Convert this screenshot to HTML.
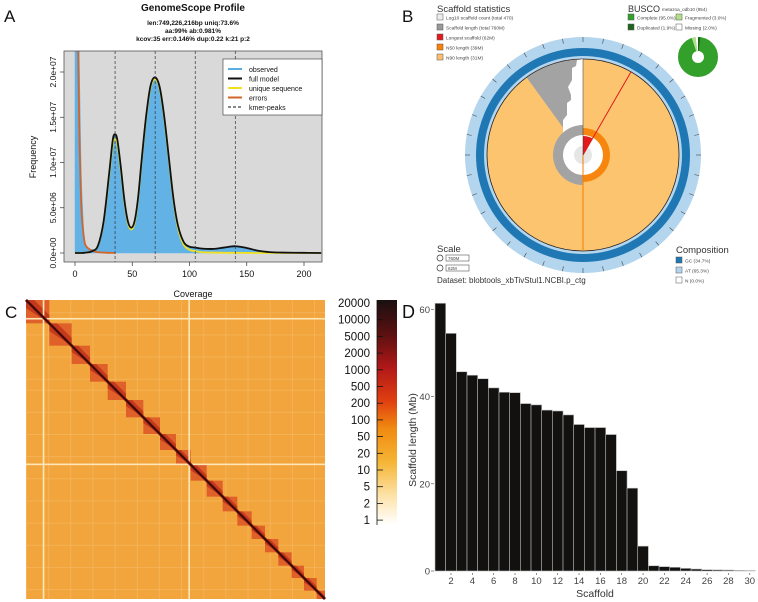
<!DOCTYPE html>
<html><head><meta charset="utf-8"><style>
html,body{margin:0;padding:0;background:#fff;}
svg{display:block;font-family:"Liberation Sans",sans-serif;}
</style></head><body>
<svg id="fig" width="758" height="602" viewBox="0 0 758 602" xmlns="http://www.w3.org/2000/svg">
<defs>
<clipPath id="clipA"><rect x="64" y="51" width="258" height="211"/></clipPath>
<linearGradient id="cbar" x1="0" y1="0" x2="0" y2="1">
<stop offset="0" stop-color="#1a1010"/><stop offset="0.15" stop-color="#5a1010"/><stop offset="0.3" stop-color="#b01818"/><stop offset="0.45" stop-color="#e04010"/><stop offset="0.57" stop-color="#f08a10"/><stop offset="0.72" stop-color="#f5b535"/><stop offset="0.87" stop-color="#fde2a8"/><stop offset="1" stop-color="#ffffff"/>
</linearGradient>
</defs>
<!-- Panel A -->
<g>
<text x="4" y="22" font-size="17" fill="#111">A</text>
<text x="193" y="11" font-size="10" font-weight="bold" text-anchor="middle" fill="#111">GenomeScope Profile</text>
<text x="193" y="25" font-size="6.5" font-weight="bold" text-anchor="middle" fill="#111">len:749,226,216bp uniq:73.6%</text>
<text x="193" y="33" font-size="6.5" font-weight="bold" text-anchor="middle" fill="#111">aa:99% ab:0.981%</text>
<text x="193" y="41" font-size="6.5" font-weight="bold" text-anchor="middle" fill="#111">kcov:35 err:0.146%  dup:0.22  k:21 p:2</text>
<rect x="64" y="51" width="258" height="211" fill="#d9d9d9"/>
<g id="aMarks" clip-path="url(#clipA)"></g>
<rect x="64" y="51" width="258" height="211" fill="none" stroke="#555" stroke-width="0.8"/>
<g id="aAxes"></g>
<text transform="translate(36,157) rotate(-90)" font-size="9" text-anchor="middle" fill="#111">Frequency</text>
<text x="193" y="297" font-size="9" text-anchor="middle" fill="#111">Coverage</text>
<g>
<rect x="223" y="59" width="99" height="56" fill="#fff" stroke="#333" stroke-width="0.6"/>
<line x1="228" y1="69" x2="242" y2="69" stroke="#5aaee3" stroke-width="2"/><text x="249" y="72" font-size="7" fill="#111">observed</text>
<line x1="228" y1="78.5" x2="242" y2="78.5" stroke="#111" stroke-width="2"/><text x="249" y="81.5" font-size="7" fill="#111">full model</text>
<line x1="228" y1="88" x2="242" y2="88" stroke="#f0e020" stroke-width="2"/><text x="249" y="91" font-size="7" fill="#111">unique sequence</text>
<line x1="228" y1="97.5" x2="242" y2="97.5" stroke="#d4652a" stroke-width="2"/><text x="249" y="100.5" font-size="7" fill="#111">errors</text>
<line x1="228" y1="107" x2="242" y2="107" stroke="#111" stroke-width="1" stroke-dasharray="3,2"/><text x="249" y="110" font-size="7" fill="#111">kmer-peaks</text>
</g>
</g>

<!-- Panel B -->
<g id="panelB">
<text x="402" y="22" font-size="17" fill="#111">B</text>
</g>

<!-- Panel C -->
<g>
<text x="5" y="318" font-size="17" fill="#111">C</text>
<g id="cMap"></g>
<rect x="377" y="300" width="20" height="225" fill="url(#cbar)"/>
<g id="cBar"></g>
</g>

<!-- Panel D -->
<g>
<text x="402" y="318" font-size="18" fill="#111">D</text>
<g id="dBars"></g>
<text transform="translate(416,440) rotate(-90)" font-size="10.5" text-anchor="middle" fill="#333">Scaffold length (Mb)</text>
<text x="595" y="597" font-size="10.5" text-anchor="middle" fill="#333">Scaffold</text>
</g>
</svg>
<script>
const NS="http://www.w3.org/2000/svg";
function mk(parent,tag,attrs){const e=document.createElementNS(NS,tag);for(const k in attrs)e.setAttribute(k,attrs[k]);parent.appendChild(e);return e;}

// ===== Panel A data (frequency in millions) =====
const coverage=[0,1,2,3,4,5,6,8,10,15,20,25,30,33,35,37,40,43,46,49,52,55,58,62,66,70,74,78,82,86,90,95,100,105,110,120,130,140,150,160,170,180,200,215];
const observedFreq=[60,60,45,30,20,12,7,2,0.8,0.4,0.9,3.5,9,12.6,13.2,12.5,9.5,6,3.6,2.8,3.5,6,10,15,18.5,19.4,18.3,15,10.5,6,3,1.2,0.65,0.55,0.45,0.4,0.55,0.7,0.5,0.22,0.08,0.04,0.01,0];
const modelFreq=[0,0,0,0,0,0,0,0.02,0.05,0.2,0.8,3.5,9,12.5,13.1,12.5,9.5,6,3.6,2.8,3.5,6,10,15,18.5,19.4,18.3,15,10.5,6,3,1.2,0.7,0.6,0.5,0.45,0.6,0.75,0.55,0.25,0.1,0.05,0.02,0];
const uniqueFreq=[0,0,0,0,0,0,0,0.02,0.05,0.2,0.8,3.4,8.7,12,12.6,12,9.2,5.8,3.4,2.6,3.3,5.8,9.8,14.8,18.3,19.2,18.1,14.8,10.3,5.8,2.7,0.9,0.35,0.2,0.1,0.05,0.03,0.02,0.01,0,0,0,0,0];
const errorFreq=[60,45,30,20,12,7,4,1.5,0.7,0.25,0.1,0.05,0.02,0.01,0];
const kmerPeaks=[35,70,105,140];
const aXTicks=[0,50,100,150,200];
const aYTicks=[0,5,10,15,20];
const aYTickLabels=["0.0e+00","5.0e+06","1.0e+07","1.5e+07","2.0e+07"];

const ax=c=>75+c*1.145, ay=f=>253-Math.min(f,30)*9.05;
function smooth(xs,ys){const p=xs.map((x,i)=>[ax(x),ay(ys[i])]);let d="M"+p[0][0]+","+p[0][1];
 for(let i=0;i<p.length-1;i++){const p0=p[i-1]||p[i],p1=p[i],p2=p[i+1],p3=p[i+2]||p2;
  const c1=[p1[0]+(p2[0]-p0[0])/6,p1[1]+(p2[1]-p0[1])/6],c2=[p2[0]-(p3[0]-p1[0])/6,p2[1]-(p3[1]-p1[1])/6];
  d+=" C"+c1[0]+","+c1[1]+" "+c2[0]+","+c2[1]+" "+p2[0]+","+p2[1];}return d;}
const gA=document.getElementById("aMarks");
let obsPath=smooth(coverage,observedFreq)+" L"+ax(coverage[coverage.length-1])+","+ay(0)+" L"+ax(0)+","+ay(0)+" Z";
let e=mk(gA,"path",{d:obsPath,fill:"#62b2e6",stroke:"#62b2e6","stroke-width":"0.5"});


e=mk(gA,"path",{d:smooth(coverage,uniqueFreq),fill:"none",stroke:"#f0e020","stroke-width":"1.8"});


e=mk(gA,"path",{d:smooth(coverage.slice(0,errorFreq.length),errorFreq),fill:"none",stroke:"#d4652a","stroke-width":"1.8"});


e=mk(gA,"path",{d:smooth(coverage,modelFreq),fill:"none",stroke:"#111","stroke-width":"1.8"});


kmerPeaks.forEach(k=>{const l=mk(gA,"line",{x1:ax(k),x2:ax(k),y1:51,y2:262,stroke:"#333","stroke-width":"0.7","stroke-dasharray":"3,2"});
 
 });
const gAx=document.getElementById("aAxes");
aXTicks.forEach(t=>{mk(gAx,"line",{x1:ax(t),x2:ax(t),y1:262,y2:266,stroke:"#333","stroke-width":"0.7"});
 const tx=mk(gAx,"text",{x:ax(t),y:277,"font-size":"9","text-anchor":"middle",fill:"#111"});tx.textContent=t;
 
 });
aYTicks.forEach((t,i)=>{mk(gAx,"line",{x1:60,x2:64,y1:ay(t),y2:ay(t),stroke:"#333","stroke-width":"0.7"});
 const tx=mk(gAx,"text",{transform:"translate(56,"+ay(t)+") rotate(-90)","font-size":"8.5","text-anchor":"middle",fill:"#111"});tx.textContent=aYTickLabels[i];
 
 });

// ===== Panel B (snail plot) =====
const gB=document.getElementById("panelB");
const cx=583,cy=155;
function pt(r,a){const t=a*Math.PI/180;return [cx+r*Math.sin(t),cy-r*Math.cos(t)];}
function sector(r0,r1,a0,a1){const big=(a1-a0)>180?1:0;const p1=pt(r1,a0),p2=pt(r1,a1);
 if(r0<=0)return "M"+cx+","+cy+" L"+p1+" A"+r1+","+r1+" 0 "+big+" 1 "+p2+" Z";
 const p3=pt(r0,a1),p4=pt(r0,a0);return "M"+p1+" A"+r1+","+r1+" 0 "+big+" 1 "+p2+" L"+p3+" A"+r0+","+r0+" 0 "+big+" 0 "+p4+" Z";}
mk(gB,"circle",{cx,cy,r:118,fill:"#b3d5ee"});
mk(gB,"circle",{cx,cy,r:107,fill:"#1f78b4"});
mk(gB,"circle",{cx,cy,r:99,fill:"#b3d5ee"});
mk(gB,"circle",{cx,cy,r:96,fill:"#fdc470",stroke:"#222","stroke-width":"0.8"});
for(let a=0;a<360;a+=10){const p=pt(118,a),q=pt(113,a);mk(gB,"line",{x1:p[0],y1:p[1],x2:q[0],y2:q[1],stroke:"#444","stroke-width":"0.6"});}
mk(gB,"path",{d:sector(20,95.5,-36,0),fill:"#a3a3a3"});
mk(gB,"polygon",{points:"583,59 577,60 576,66 572,68 572,80 568,87 571,95 571,100 567,103 567,115 563,120 563,135 583,135",fill:"#fff"});
mk(gB,"path",{d:sector(20,30,180,360),fill:"#a3a3a3"});
mk(gB,"path",{d:sector(19,27,0,180),fill:"#f7860f"});
mk(gB,"circle",{cx,cy,r:20,fill:"#fff"});
mk(gB,"circle",{cx,cy,r:9,fill:"#e6e6e6"});
mk(gB,"path",{d:sector(0,19,0,30),fill:"#e31a1c"});
let p=pt(96,30);mk(gB,"line",{x1:cx,y1:cy,x2:p[0],y2:p[1],stroke:"#e31a1c","stroke-width":"1"});
mk(gB,"line",{x1:cx,y1:cy,x2:cx,y2:cy+96,stroke:"#f07f00","stroke-width":"1"});
mk(gB,"line",{x1:cx,y1:cy,x2:cx,y2:cy-96,stroke:"#333","stroke-width":"0.5"});
// legends
function lt(x,y,s,txt,fill,name){const t=mk(gB,"text",{x,y,"font-size":s,fill:fill||"#333"});t.textContent=txt;}
function sw(x,y,c){mk(gB,"rect",{x,y,width:6,height:6,fill:c,stroke:"#555","stroke-width":"0.5"});}
lt(437,12,"9.5","Scaffold statistics","#333","scaffold-statistics-title");
[["Log10 scaffold count (total 470)","#eeeeee"],["Scaffold length (total 760M)","#999999"],["Longest scaffold (62M)","#e31a1c"],["N50 length (39M)","#ff7f00"],["N90 length (31M)","#fdbf6f"]].forEach((d,i)=>{sw(437,14+i*10,d[1]);lt(446,19.5+i*10,"4.8",d[0],"#444","scaffold-legend-entry");});
lt(628,12,"9","BUSCO","#333","busco-title");lt(662,11,"4.6","metazoa_odb10 (954)","#444","busco-dataset");
sw(628,14,"#33a02c");lt(637,19.5,"4.8","Complete (95.0%)","#444","busco-complete");
sw(676,14,"#b2df8a");lt(685,19.5,"4.8","Fragmented (3.0%)","#444","busco-fragmented");
sw(628,24,"#20641c");lt(637,29.5,"4.8","Duplicated (1.9%)","#444","busco-duplicated");
sw(676,24,"#ffffff");lt(685,29.5,"4.8","Missing (2.0%)","#444","busco-missing");
mk(gB,"circle",{cx:698,cy:57,r:13,fill:"none",stroke:"#33a02c","stroke-width":"14"});
(function(){const c=698,d=57;function q(r,a){const t=a*Math.PI/180;return [c+r*Math.sin(t),d-r*Math.cos(t)];}
 function s(a0,a1,col){const p1=q(20,a0),p2=q(20,a1),p3=q(6,a1),p4=q(6,a0);mk(gB,"path",{d:"M"+p1+" A20,20 0 0 1 "+p2+" L"+p3+" A6,6 0 0 0 "+p4+" Z",fill:col});}
 s(-18,-7,"#b2df8a");s(-7,0,"#fff");s(0,7,"#20641c");})();
lt(437,252,"9.5","Scale","#333","scale-title");
mk(gB,"circle",{cx:440,cy:258,r:3,fill:"none",stroke:"#333","stroke-width":"0.7"});mk(gB,"rect",{x:446,y:255,width:23,height:6,fill:"#fff",stroke:"#333","stroke-width":"0.5"});lt(448,260,"4.5","760M","#444","scale-760m");
mk(gB,"circle",{cx:440,cy:268,r:3,fill:"none",stroke:"#333","stroke-width":"0.7"});mk(gB,"rect",{x:446,y:265,width:23,height:6,fill:"#fff",stroke:"#333","stroke-width":"0.5"});lt(448,270,"4.5","62M","#444","scale-62m");
lt(437,283,"8","Dataset: blobtools_xbTivStul1.NCBI.p_ctg","#333","dataset-label");
lt(676,253,"9.5","Composition","#333","composition-title");
sw(676,257,"#1f78b4");lt(685,262.5,"4.8","GC (34.7%)","#444","composition-gc");
sw(676,267,"#b3d5ee");lt(685,272.5,"4.8","AT (65.3%)","#444","composition-at");
sw(676,277,"#ffffff");lt(685,282.5,"4.8","N (0.0%)","#444","composition-n");

// ===== Panel C (Hi-C map) =====
const blockEdges=[0,70,137,192,245,300,352,402,450,494,542,590,634,677,717,757,797,834,872,897];
const gapPositions=[0.056,0.543];
const cbTickLabels=["20000","10000","5000","2000","1000","500","200","100","50","20","10","5","2","1"];
const gC=document.getElementById("cMap");
const X0=26,Y0=300,S=299,scl=v=>v/897*S;
let bg=mk(gC,"rect",{x:X0,y:Y0,width:S,height:S,fill:"#f2a53c"});


for(let i=0;i<40;i++){const v=(i*0.0247)%1; if(i%3==0){mk(gC,"rect",{x:X0+v*S,y:Y0,width:1,height:S,fill:"#f7c070",opacity:"0.5"});mk(gC,"rect",{x:X0,y:Y0+((v+0.3)%1)*S,width:S,height:1,fill:"#f7c070",opacity:"0.5"});}}
for(let i=0;i<blockEdges.length-1;i++){const a=scl(blockEdges[i]),b=scl(blockEdges[i+1]);
 const r=mk(gC,"rect",{x:X0+a,y:Y0+a,width:b-a,height:b-a,fill:"#e0602a"});
 
 
 mk(gC,"polygon",{points:(X0+a)+","+(Y0+a)+" "+(X0+a+(b-a)*0.35)+","+(Y0+a)+" "+(X0+b)+","+(Y0+b-(b-a)*0.35)+" "+(X0+b)+","+(Y0+b)+" "+(X0+a)+","+(Y0+a+(b-a)*0.35),fill:"#c43a1c"});}
gapPositions.forEach(g=>{const l1=mk(gC,"rect",{x:X0+g*S,y:Y0,width:1.6,height:S,fill:"#fde6b8"});
 
 
 mk(gC,"rect",{x:X0,y:Y0+(g+0.004)*S,width:S,height:1.6,fill:"#fde6b8"});});
mk(gC,"line",{x1:X0,y1:Y0,x2:X0+S,y2:Y0+S,stroke:"#8a1a10","stroke-width":"3"});
mk(gC,"line",{x1:X0,y1:Y0,x2:X0+S,y2:Y0+S,stroke:"#2a0808","stroke-width":"1.4"});
const gCB=document.getElementById("cBar");
cbTickLabels.forEach((t,i)=>{const y=303+i*16.7;
 const tx=mk(gCB,"text",{x:370,y:y+4,"font-size":"11.5","text-anchor":"end",fill:"#111"});tx.textContent=t;
 
 
 mk(gCB,"line",{x1:377,x2:383,y1:y,y2:y,stroke:"#111","stroke-width":"0.8"});});
mk(gCB,"line",{x1:377,x2:377,y1:300,y2:525,stroke:"#111","stroke-width":"0.8"});

// ===== Panel D (bars) =====
const scaffoldIds=[1,2,3,4,5,6,7,8,9,10,11,12,13,14,15,16,17,18,19,20,21,22,23,24,25,26,27,28,29,30];
const scaffoldLengths=[61.4,54.5,45.7,44.9,44.1,42.0,41.0,40.9,38.4,38.1,36.9,36.7,35.8,33.6,32.9,32.9,31.3,23.0,19.0,5.7,1.2,1.0,0.85,0.6,0.45,0.3,0.25,0.22,0.15,0.12];
const dXTicks=[2,4,6,8,10,12,14,16,18,20,22,24,26,28,30];
const dYTicks=[0,20,40,60];
const gD=document.getElementById("dBars");
const bw=10.67, dx=i=>435+(i-1)*bw, dy=v=>571-v*4.36;
scaffoldIds.forEach((id,i)=>{const r=mk(gD,"rect",{x:dx(id),y:dy(scaffoldLengths[i]),width:bw,height:dy(0)-dy(scaffoldLengths[i]),fill:"#121110",stroke:"#bbb","stroke-width":"0.6"});
 
 });
dXTicks.forEach(t=>{const x=dx(t)+bw/2;mk(gD,"line",{x1:x,x2:x,y1:573,y2:575,stroke:"#444","stroke-width":"0.6"});
 const tx=mk(gD,"text",{x:x,y:584,"font-size":"9.5","text-anchor":"middle",fill:"#444"});tx.textContent=t;
 
 });
dYTicks.forEach(t=>{mk(gD,"line",{x1:431,x2:434,y1:dy(t),y2:dy(t),stroke:"#444","stroke-width":"0.6"});
 const tx=mk(gD,"text",{x:430,y:dy(t)+3.5,"font-size":"9.5","text-anchor":"end",fill:"#444"});tx.textContent=t;
 
 });
</script>
</body></html>
